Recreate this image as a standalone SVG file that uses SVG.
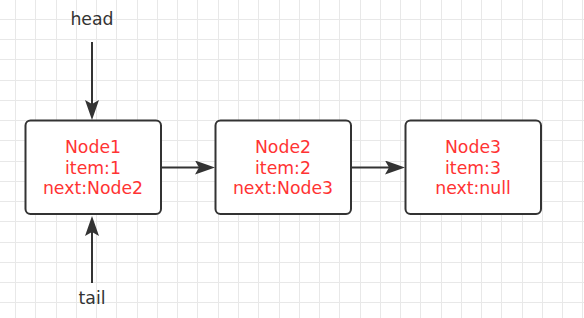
<svg xmlns="http://www.w3.org/2000/svg" width="584" height="318" viewBox="0 0 584 318">
  <style>
    .grid { stroke: #e8e8e8; stroke-width: 1; fill: none; }
    .box { fill: #ffffff; stroke: #333333; stroke-width: 2; }
    .lbl { font-family: "DejaVu Sans", "Noto Sans", sans-serif; font-size: 17.3px; fill: #ff3333; text-anchor: middle; }
    .ext { font-family: "DejaVu Sans", "Noto Sans", sans-serif; font-size: 17.3px; fill: #333333; text-anchor: middle; }
    .edge { stroke: #333333; stroke-width: 2; fill: none; marker-end: url(#arrow); }
  </style>
  <defs>
    <marker id="arrow" markerUnits="userSpaceOnUse" markerWidth="20" markerHeight="14" refX="4" refY="7" orient="auto" viewBox="0 0 20 14">
      <path d="M0,0 L20,7 L0,14 L4,7 Z" fill="#333333"/>
    </marker>
  </defs>
  <rect width="584" height="318" fill="#ffffff"/>
  <g id="grid" class="grid">
    <path d="M15.5,0V318M35.5,0V318M56.5,0V318M76.5,0V318M96.5,0V318M116.5,0V318M137.5,0V318M157.5,0V318M177.5,0V318M197.5,0V318M218.5,0V318M238.5,0V318M258.5,0V318M279.5,0V318M299.5,0V318M319.5,0V318M339.5,0V318M360.5,0V318M380.5,0V318M400.5,0V318M420.5,0V318M441.5,0V318M461.5,0V318M481.5,0V318M501.5,0V318M522.5,0V318M542.5,0V318M562.5,0V318M582.5,0V318"/>
    <path d="M0,19.5H584M0,39.5H584M0,59.5H584M0,80.5H584M0,100.5H584M0,120.5H584M0,140.5H584M0,161.5H584M0,181.5H584M0,201.5H584M0,221.5H584M0,242.5H584M0,262.5H584M0,282.5H584M0,302.5H584"/>
  </g>
  <g id="connectors">
    <path class="edge" d="M92,42 V104"/>
    <path class="edge" d="M92,283 V232"/>
    <path class="edge" d="M161,167.5 H199"/>
    <path class="edge" d="M351,167.5 H389"/>
  </g>
  <g id="node1">
    <rect class="box" x="25.5" y="120.5" width="135.5" height="93.5" rx="5"/>
    <text class="lbl" x="93" y="153">Node1</text>
    <text class="lbl" x="93" y="173.5">item:1</text>
    <text class="lbl" x="93" y="194">next:Node2</text>
  </g>
  <g id="node2">
    <rect class="box" x="215.5" y="120.5" width="135.5" height="93.5" rx="5"/>
    <text class="lbl" x="283" y="153">Node2</text>
    <text class="lbl" x="283" y="173.5">item:2</text>
    <text class="lbl" x="283" y="194">next:Node3</text>
  </g>
  <g id="node3">
    <rect class="box" x="405.5" y="120.5" width="135.5" height="93.5" rx="5"/>
    <text class="lbl" x="473" y="153">Node3</text>
    <text class="lbl" x="473" y="173.5">item:3</text>
    <text class="lbl" x="473" y="194">next:null</text>
  </g>
  <g id="head">
    <text class="ext" x="92" y="25">head</text>
  </g>
  <g id="tail">
    <text class="ext" x="92" y="304">tail</text>
  </g>
</svg>
